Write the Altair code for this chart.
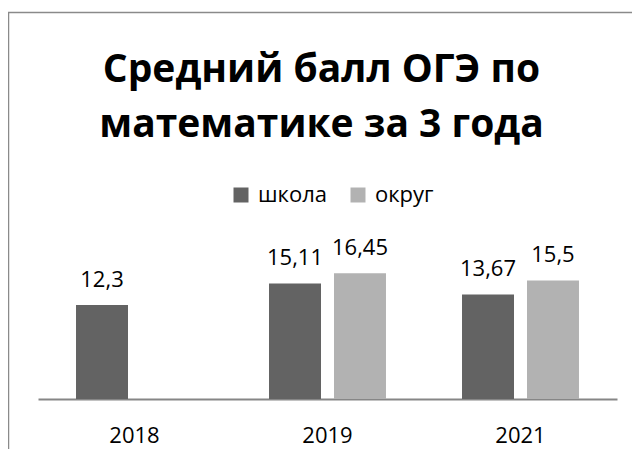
import altair as alt
import pandas as pd

years = ["2018", "2019", "2021"]
series = ["школа", "округ"]
school = [12.3, 15.11, 13.67]
okrug = [None, 16.45, 15.5]
colors = ["#636363", "#b2b2b2"]
title_lines = ["Средний балл ОГЭ по", "математике за 3 года"]

rows = []
for yr, s, o in zip(years, school, okrug):
    rows.append({"year": yr, "series": series[0], "value": s})
    if o is not None:
        rows.append({"year": yr, "series": series[1], "value": o})
df = pd.DataFrame(rows)
df["label"] = df["value"].map(lambda v: f"{v:g}".replace(".", ","))

FONT = "Open Sans"
W, H = 579, 153

base = alt.Chart(df).encode(
    x=alt.X(
        "year:N",
        sort=years,
        scale=alt.Scale(paddingInner=0, paddingOuter=0),
        axis=alt.Axis(
            title=None, labelAngle=0, ticks=False, grid=False,
            domainColor="#868686", domainWidth=2,
            labelFontSize=22, labelFont=FONT, labelColor="#000000",
            labelPadding=26,
        ),
    ),
    xOffset=alt.XOffset(
        "series:N", sort=series,
        scale=alt.Scale(domain=series, paddingInner=0.2, paddingOuter=0.585),
    ),
    y=alt.Y("value:Q", scale=alt.Scale(domain=[0, 20]), axis=None),
)

bars = base.mark_bar().encode(
    color=alt.Color(
        "series:N",
        scale=alt.Scale(domain=series, range=colors),
        legend=alt.Legend(
            title=None, orient="none", legendX=192, legendY=-62,
            direction="horizontal", symbolType="square", symbolSize=225,
            symbolStrokeWidth=0, symbolOpacity=1,
            labelFontSize=22, labelFont=FONT, labelColor="#000000",
            labelOffset=6, columnPadding=20,
        ),
    )
)

labels = base.mark_text(
    dy=-18, baseline="alphabetic", fontSize=22, font=FONT, color="#000000"
).encode(text="label:N")

frame = alt.Chart(pd.DataFrame({"a": [0]})).mark_rect(
    fillOpacity=0, stroke="#8a8a8a", strokeWidth=1.5
).encode(
    x=alt.value(-29.5), x2=alt.value(700),
    y=alt.value(-233.5), y2=alt.value(400),
)

chart = alt.layer(frame, bars, labels).properties(
    width=W,
    height=H,
    title=alt.Title(
        title_lines, font=FONT, fontSize=39, fontWeight="bold",
        color="#000000", lineHeight=55, anchor="middle", dx=-6, offset=-133,
    ),
    autosize=alt.AutoSizeParams(type="none"),
    padding={"left": 30, "top": 238, "right": 15, "bottom": 50},
).configure_view(stroke=None)

chart.save("out.html", embed_options={"renderer": "svg", "actions": False})
